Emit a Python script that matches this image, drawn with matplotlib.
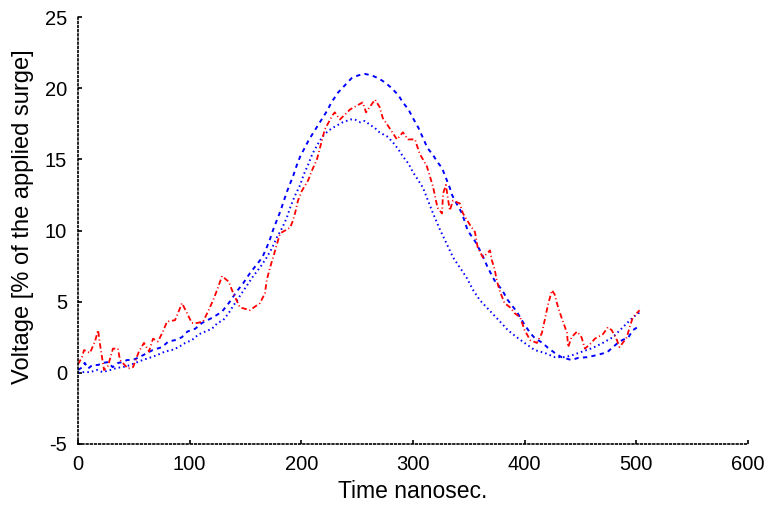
import matplotlib
matplotlib.use("Agg")
import matplotlib.pyplot as plt
import numpy as np

plt.rcParams['font.family'] = ['Liberation Sans', 'DejaVu Sans']
plt.rcParams['axes.unicode_minus'] = False

# blue dashed trace (higher peak)
t_dash = [0, 4, 6, 9, 13, 18, 22, 27, 31, 36, 40, 44, 49, 55, 62, 67, 75, 81, 87, 93,
          98, 105, 111, 116, 121, 129, 136, 142, 148, 154, 160, 165, 169, 172, 175, 178,
          181, 184, 187, 190, 193, 196, 199, 203, 207, 211, 215, 219, 223, 227, 233, 239,
          245, 251, 257, 263, 269, 275, 281, 287, 291, 296, 300, 305, 309, 313, 318, 322,
          326, 329, 333, 335, 339, 344, 349, 356, 362, 367, 373, 380, 385, 393, 399, 405,
          409, 416, 421, 427, 433, 442, 448, 456, 465, 474, 479, 485, 493, 497, 503]
v_dash = [0.2, 0.4, 0.7, 0.3, 0.55, 0.55, 0.7, 0.75, 0.4, 0.7, 0.75, 0.9, 0.9, 1.1, 1.4,
          1.6, 1.8, 2.2, 2.3, 2.5, 2.9, 3.1, 3.5, 3.7, 3.9, 4.3, 5.0, 5.7, 6.3, 7.0, 7.6,
          8.1, 8.8, 9.4, 10.1, 10.7, 11.3, 12.0, 12.7, 13.3, 13.9, 14.6, 15.2, 15.8, 16.4,
          16.9, 17.4, 17.9, 18.4, 19.0, 19.7, 20.2, 20.7, 20.9, 21.0, 20.9, 20.7, 20.4,
          20.0, 19.5, 19.0, 18.5, 17.9, 17.2, 16.5, 15.8, 15.3, 14.8, 14.4, 13.8, 13.0,
          12.5, 11.9, 11.2, 10.0, 9.2, 8.3, 7.4, 6.5, 5.8, 5.1, 4.3, 3.5, 2.8, 2.45, 2.1,
          1.75, 1.4, 1.1, 0.9, 1.05, 1.1, 1.25, 1.45, 1.8, 2.2, 2.5, 3.0, 3.3]

# blue dotted trace
t_dot = [0, 4, 11, 17, 22, 29, 35, 40, 47, 53, 58, 64, 71, 78, 84, 90, 96, 102, 108, 114,
         120, 125, 130, 135, 139, 145, 151, 157, 163, 169, 174, 178, 183, 187, 190, 194,
         199, 202, 206, 210, 215, 219, 224, 230, 237, 244, 248, 253, 257, 262, 266, 270,
         277, 282, 287, 291, 296, 300, 305, 309, 313, 318, 324, 330, 336, 342, 348, 354,
         360, 366, 372, 378, 385, 393, 400, 409, 418, 427, 436, 443, 452, 461, 470, 479,
         488, 497, 504]
v_dot = [0.0, 0.05, 0.05, 0.2, 0.05, 0.2, 0.35, 0.4, 0.55, 0.75, 0.9, 1.05, 1.25, 1.5, 1.6,
         1.8, 2.1, 2.3, 2.7, 2.9, 3.1, 3.5, 3.7, 4.2, 4.7, 5.4, 6.1, 6.8, 7.4, 8.1, 8.8,
         9.5, 10.2, 10.9, 11.6, 12.4, 13.2, 13.9, 14.6, 15.4, 16.1, 16.6, 17.0, 17.3, 17.6,
         17.8, 17.8, 17.6, 17.7, 17.4, 17.2, 16.9, 16.6, 16.2, 15.7, 15.2, 14.7, 14.1,
         13.5, 13.0, 12.2, 11.2, 10.1, 9.1, 8.1, 7.4, 6.7, 5.8, 5.1, 4.6, 4.1, 3.6, 3.0,
         2.5, 2.1, 1.6, 1.4, 1.1, 1.1, 1.25, 1.5, 1.75, 2.1, 2.5, 3.2, 3.9, 4.3]

# red dash-dot trace (measured)
t_red = [0, 3.6, 5.4, 10.7, 15.2, 18, 19.7, 21.5, 23.3, 26.9, 31.3, 35.8, 37.6, 44.8, 49.3,
         54.6, 59.1, 63.6, 67.2, 71.6, 76.1, 79.7, 86.9, 89.6, 93.1, 97.6, 102, 106.6, 112,
         116.4, 121, 124.5, 129, 135, 139, 145, 154, 163, 167.5, 169, 172, 175.5, 178, 181,
         190, 192.5, 195, 197, 200.6, 206, 210, 214, 216.7, 221, 228, 230, 234.6, 243.6,
         248, 255, 258, 261.5, 266, 270, 273, 279, 285.7, 291, 295.5, 301.8, 306, 312.5,
         317.9, 322, 326, 327, 329.5, 333, 335.8, 342, 344.8, 351, 355.5, 358, 362.7, 369,
         370.7, 373.4, 375, 378, 382, 387, 391, 396, 400, 405, 411, 415.5, 418, 421, 424.5,
         427, 430, 433, 438, 439, 442, 447, 451, 454, 458.5, 463, 470, 474.6, 478, 482.7,
         485, 491.6, 494, 497, 503]
v_red = [0.6, 1.1, 1.6, 1.4, 2.2, 3.0, 2.0, 1.1, 0.2, 0.5, 1.7, 1.7, 0.9, 0.3, 0.4, 1.5,
         2.1, 1.5, 2.4, 2.2, 2.9, 3.6, 3.7, 4.2, 4.9, 4.2, 3.5, 3.5, 3.6, 4.3, 5.1, 5.8,
         6.8, 6.4, 5.6, 4.6, 4.4, 4.9, 5.6, 6.5, 7.4, 8.3, 9.0, 9.8, 10.2, 10.7, 11.4, 12.1,
         12.8, 13.5, 14.3, 15.0, 15.8, 17.1, 18.1, 18.3, 17.8, 18.5, 18.7, 19.0, 18.3,
         18.7, 19.2, 18.7, 17.9, 17.2, 16.4, 16.9, 16.4, 16.4, 15.4, 14.5, 13.1, 11.6,
         11.2, 12.6, 13.2, 11.4, 12.1, 11.9, 11.2, 10.4, 9.9, 8.8, 8.1, 8.6, 7.9, 7.2, 6.5,
         5.7, 4.9, 4.6, 4.2, 3.9, 3.0, 2.3, 2.1, 2.8, 3.7, 4.8, 5.8, 5.5, 4.6, 3.9, 2.8,
         1.8, 2.5, 2.9, 2.5, 1.7, 2.0, 2.4, 2.7, 3.2, 3.0, 2.3, 1.8, 2.5, 3.2, 3.9, 4.4]

fig = plt.figure(figsize=(7.7, 5.08), dpi=100)
ax = fig.add_axes([0.1013, 0.126, 0.87, 0.8405])

ax.plot(t_dash, v_dash, color='blue', linestyle=(0, (2.2, 2.2)), linewidth=1.4)
ax.plot(t_dot, v_dot, color='blue', linestyle=(0, (0.8, 1.6)), linewidth=1.4)
ax.plot(t_red, v_red, color='red', linestyle=(0, (3, 1.5, 0.6, 1.5)), linewidth=1.3)

ax.set_xlim(0, 600)
ax.set_ylim(-5, 25)
ax.set_xticks(np.arange(0, 601, 100))
ax.set_yticks(np.arange(-5, 26, 5))

for s in ['top', 'right']:
    ax.spines[s].set_visible(False)
for s in ['left', 'bottom']:
    ax.spines[s].set_linestyle((0, (1, 1.5)))
    ax.spines[s].set_linewidth(1.2)
ax.tick_params(direction='in', length=3, width=1.2, labelsize=14.5, pad=8,
               top=False, right=False)

ax.set_xlabel('Time nanosec.', fontsize=16.5, labelpad=4)
ax.set_ylabel('Voltage [% of the applied surge]', fontsize=17)
ax.yaxis.set_label_coords(-0.066, 0.532)

fig.savefig('out.png', dpi=100)
